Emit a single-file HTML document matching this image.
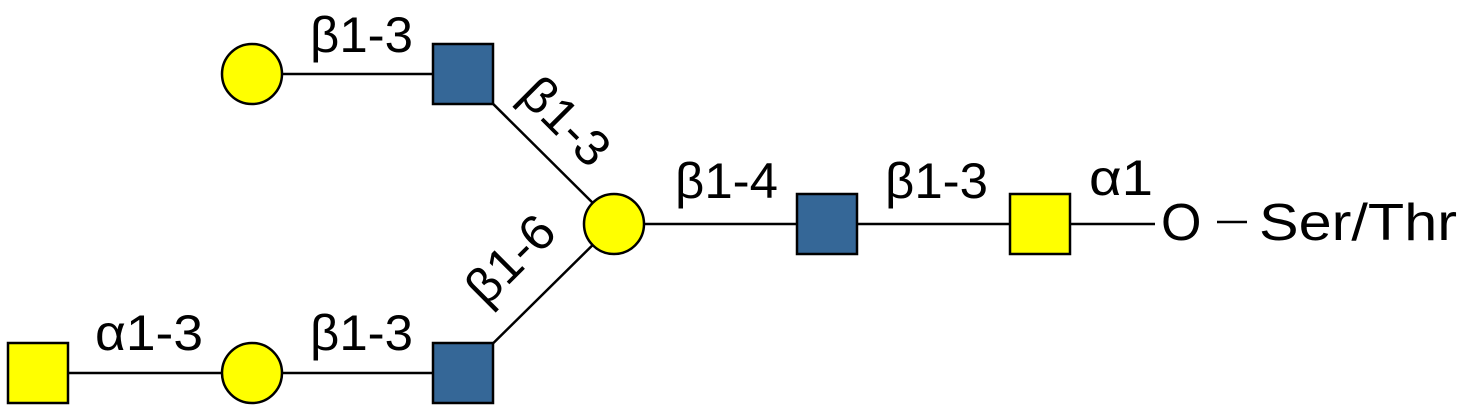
<!DOCTYPE html>
<html><head><style>body{margin:0;background:#fff}svg{display:block}</style></head>
<body>
<svg width="1460" height="416" viewBox="0 0 1460 416" xmlns="http://www.w3.org/2000/svg" font-family="Liberation Sans, sans-serif" font-size="50" fill="#000">
<g stroke="#000" stroke-width="2.5" fill="none">
<line x1="252" y1="74" x2="463" y2="74"/>
<line x1="463" y1="74" x2="614" y2="224"/>
<line x1="463" y1="373" x2="614" y2="224"/>
<line x1="614" y1="224" x2="1040" y2="224"/>
<line x1="1040" y1="224" x2="1155" y2="224"/>
<line x1="1217" y1="222" x2="1247" y2="222"/>
<line x1="38" y1="373" x2="463" y2="373"/>
</g>
<g stroke="#000" stroke-width="2.5">
<circle cx="252" cy="74" r="30" fill="#ffff00"/>
<rect x="433" y="44" width="60" height="60" fill="#356797"/>
<circle cx="614" cy="224" r="30" fill="#ffff00"/>
<rect x="797" y="194" width="60" height="60" fill="#356797"/>
<rect x="1010" y="194" width="60" height="60" fill="#ffff00"/>
<rect x="8" y="343" width="60" height="60" fill="#ffff00"/>
<circle cx="252" cy="373" r="30" fill="#ffff00"/>
<rect x="433" y="343" width="60" height="60" fill="#356797"/>
</g>
<text x="310" y="52" textLength="103" lengthAdjust="spacingAndGlyphs">β1-3</text>
<text transform="translate(563,124) rotate(45)" text-anchor="middle" dominant-baseline="middle" textLength="103" lengthAdjust="spacingAndGlyphs">β1-3</text>
<text transform="translate(513,262) rotate(-45)" text-anchor="middle" dominant-baseline="middle" textLength="103" lengthAdjust="spacingAndGlyphs">β1-6</text>
<text x="675" y="198" textLength="103" lengthAdjust="spacingAndGlyphs">β1-4</text>
<text x="885" y="198" textLength="103" lengthAdjust="spacingAndGlyphs">β1-3</text>
<text x="1089" y="195" textLength="64" lengthAdjust="spacingAndGlyphs">α1</text>
<text x="1161" y="240" font-size="52">O</text>
<text x="1259" y="240" font-size="52" textLength="198" lengthAdjust="spacingAndGlyphs">Ser/Thr</text>
<text x="95" y="350" textLength="108" lengthAdjust="spacingAndGlyphs">α1-3</text>
<text x="310" y="350" textLength="103" lengthAdjust="spacingAndGlyphs">β1-3</text>
</svg>
</body></html>
